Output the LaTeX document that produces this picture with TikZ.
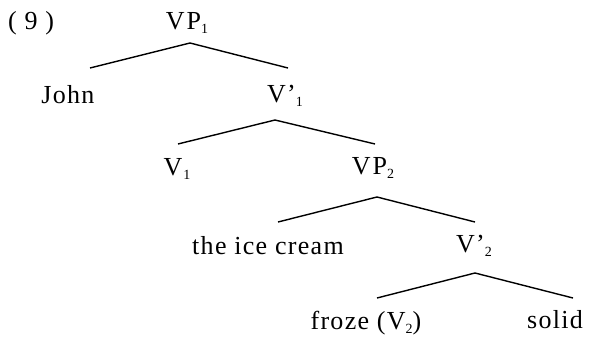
\documentclass[tikz,border=0pt]{standalone}
\usepackage{fontspec}
\setmainfont[LetterSpace=5]{Liberation Serif}
\newcommand{\sbs}[1]{\raisebox{-0.4ex}{\fontsize{14}{14}\selectfont #1}}
\begin{document}
\begin{tikzpicture}[x=1pt,y=-1pt,
  lbl/.style={anchor=base,inner sep=0pt,font=\fontsize{26}{30}\selectfont},
  branch/.style={line width=1.4pt,black}]
\useasboundingbox (0,0) rectangle (595,340);
\node[lbl,anchor=base west] (num) at (8,29) {(\hspace{0.3em}9\hspace{0.3em})};
\node[lbl] (vp1) at (187,29) {V\kern2pt P\sbs{1}};
\node[lbl] (john) at (68,103) {John};
\node[lbl] (vb1) at (285,102) {V’\sbs{1}};
\node[lbl] (v1) at (177,175) {V\kern1pt\sbs{1}};
\node[lbl] (vp2) at (373,174) {V\kern2pt P\sbs{2}};
\node[lbl] (ice) at (268,254) {the ice cream};
\node[lbl] (vb2) at (474,252) {V’\sbs{2}};
\node[lbl] (froze) at (366,329) {froze (V\sbs{2})};
\node[lbl] (solid) at (555,328) {solid};
% branches
\coordinate (a1) at (190,43); \coordinate (l1) at (90,68); \coordinate (r1) at (288,68);
\coordinate (a2) at (275,120); \coordinate (l2) at (178,144); \coordinate (r2) at (375,144);
\coordinate (a3) at (377,197); \coordinate (l3) at (278,222); \coordinate (r3) at (475,222);
\coordinate (a4) at (475,273); \coordinate (l4) at (377,298); \coordinate (r4) at (573,298);
\draw[branch] (l1) -- (a1) -- (r1);
\draw[branch] (l2) -- (a2) -- (r2);
\draw[branch] (l3) -- (a3) -- (r3);
\draw[branch] (l4) -- (a4) -- (r4);
\end{tikzpicture}
\end{document}
